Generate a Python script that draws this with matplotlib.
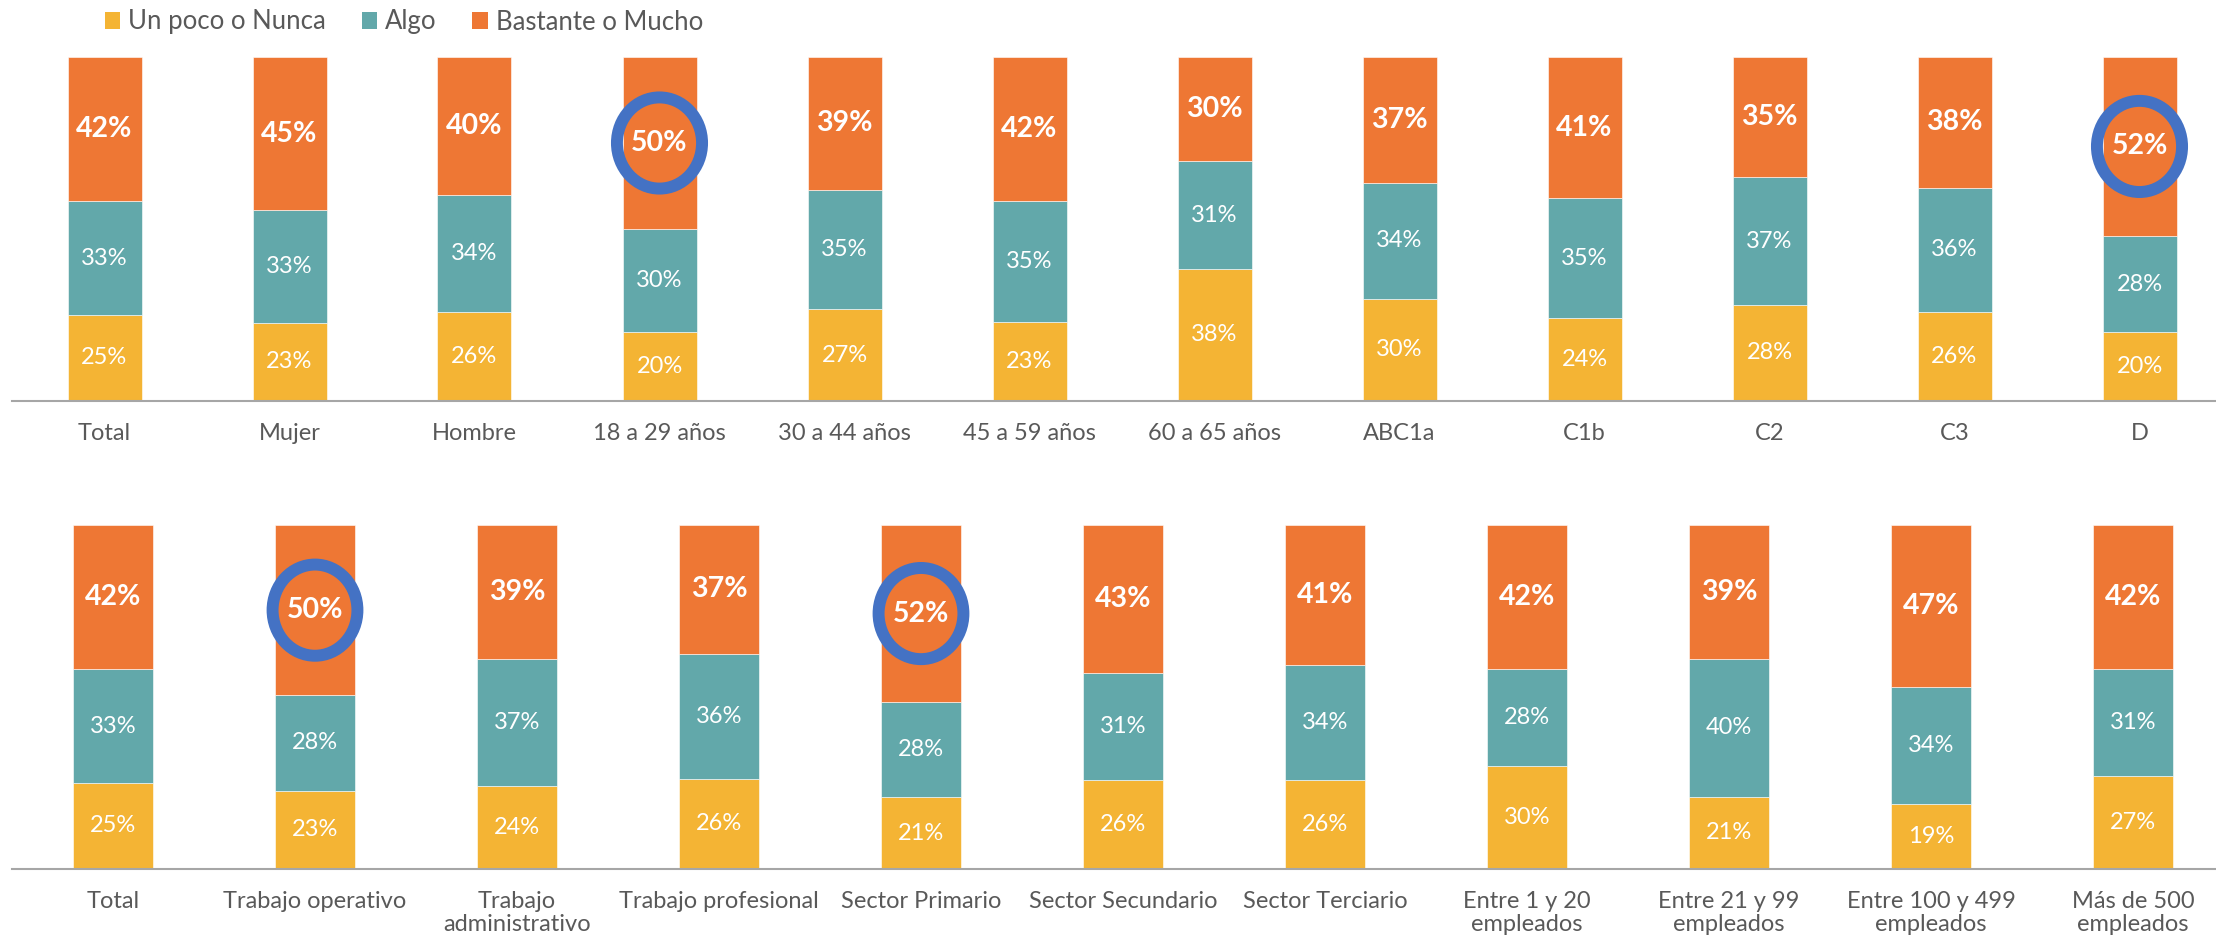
import matplotlib
matplotlib.use("Agg")
import matplotlib.pyplot as plt
from matplotlib.patches import Patch, Ellipse
import numpy as np

plt.rcParams['font.family'] = ['Lato', 'DejaVu Sans']

# datos panel superior
cats_top = ["Total", "Mujer", "Hombre", "18 a 29 años", "30 a 44 años", "45 a 59 años",
            "60 a 65 años", "ABC1a", "C1b", "C2", "C3", "D"]
poco_top = [25, 23, 26, 20, 27, 23, 38, 30, 24, 28, 26, 20]
algo_top = [33, 33, 34, 30, 35, 35, 31, 34, 35, 37, 36, 28]
mucho_top = [42, 45, 40, 50, 39, 42, 30, 37, 41, 35, 38, 52]
marcados_top = ["18 a 29 años", "D"]

# datos panel inferior
cats_bot = ["Total", "Trabajo operativo", "Trabajo\nadministrativo", "Trabajo profesional",
            "Sector Primario", "Sector Secundario", "Sector Terciario",
            "Entre 1 y 20\nempleados", "Entre 21 y 99\nempleados",
            "Entre 100 y 499\nempleados", "Más de 500\nempleados"]
poco_bot = [25, 23, 24, 26, 21, 26, 26, 30, 21, 19, 27]
algo_bot = [33, 28, 37, 36, 28, 31, 34, 28, 40, 34, 31]
mucho_bot = [42, 50, 39, 37, 52, 43, 41, 42, 39, 47, 42]
marcados_bot = ["Trabajo operativo", "Sector Primario"]

series = ["Un poco o Nunca", "Algo", "Bastante o Mucho"]
colors = ["#F4B434", "#62A8AA", "#EE7734"]
ring = "#4472C4"
gray = "#595959"

W, H = 2216, 939
fig = plt.figure(figsize=(W / 100, H / 100), dpi=100)


def panel(rect, cats, poco, algo, mucho, marcados, ew):
    ax = fig.add_axes(rect)
    n = len(cats)
    x = np.arange(n) + 0.5
    vals = np.array([poco, algo, mucho], dtype=float)
    frac = vals / vals.sum(axis=0)  # cada barra llega al 100%
    bottom = np.zeros(n)
    for k in range(3):
        ax.bar(x, frac[k], 0.4, bottom=bottom, color=colors[k],
               edgecolor="white", linewidth=0.4)
        for i in range(n):
            yc = bottom[i] + frac[k][i] / 2
            if k == 2:
                ax.text(x[i], yc, f"{vals[k][i]:.0f}%", ha="center", va="center",
                        color="white", fontsize=20.5, fontweight="bold")
            else:
                ax.text(x[i], yc, f"{vals[k][i]:.0f}%", ha="center", va="center",
                        color="white", fontsize=17)
        bottom += frac[k]
    # circulos de resalte
    for name in marcados:
        i = cats.index(name)
        yc = bottom[i] - frac[2][i] / 2
        ax.add_patch(Ellipse((x[i], yc), ew, 0.265, fill=False,
                             edgecolor=ring, linewidth=8.6, zorder=5))
    ax.set_xlim(0, n)
    ax.set_ylim(0, 1)
    ax.set_xticks(x)
    ax.set_xticklabels(cats, fontsize=17, color=gray, va="top", linespacing=1.12)
    ax.tick_params(axis="x", length=0, pad=16)
    ax.set_yticks([])
    for s in ["top", "left", "right"]:
        ax.spines[s].set_visible(False)
    ax.spines["bottom"].set_color("#A6A6A6")
    ax.spines["bottom"].set_linewidth(1.5)
    ax.patch.set_alpha(0)
    return ax


panel([12 / W, 1 - 401 / H, 2220 / W, 344 / H], cats_top, poco_top, algo_top, mucho_top,
      marcados_top, 0.46)
panel([12 / W, 1 - 869 / H, 2222 / W, 344 / H], cats_bot, poco_bot, algo_bot, mucho_bot,
      marcados_bot, 0.42)

handles = [Patch(facecolor=c, edgecolor="none") for c in colors]
fig.legend(handles, series, loc="center left", bbox_to_anchor=(105 / W, 1 - 22 / H),
           ncol=3, frameon=False, fontsize=18.5, labelcolor=gray,
           handlelength=0.6, handleheight=0.6, handletextpad=0.3,
           columnspacing=1.4, borderpad=0, borderaxespad=0)

fig.savefig("out.png", dpi=100)
